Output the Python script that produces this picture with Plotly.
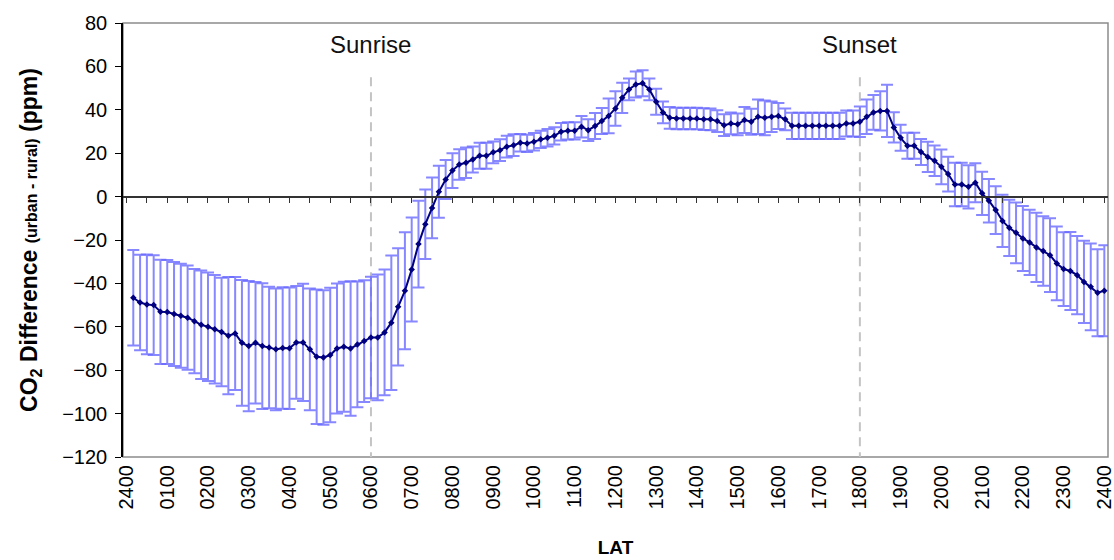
import plotly.graph_objects as go

# Local apparent time (hours) of each 10-minute sample: 00:10 ... 24:00
times_h = [(k + 1) / 6 for k in range(144)]

# Mean urban-minus-rural CO2 difference (ppm)
co2_diff = [
    -46.6, -48.8, -49.7, -50.0, -53.1, -53.2, -54.1, -54.9, -55.8, -57.4, -59.1, -60.0,
    -61.1, -62.4, -64.1, -63.1, -67.4, -68.9, -67.4, -68.9, -69.5, -70.4, -69.8, -69.9,
    -67.2, -67.2, -70.4, -73.8, -74.1, -73.0, -70.0, -69.2, -70.0, -68.1, -66.6, -64.9,
    -64.9, -62.6, -58.1, -50.8, -43.4, -33.6, -21.9, -12.7, -5.2, 2.2, 7.9, 12.0,
    14.8, 15.6, 17.1, 18.8, 18.8, 20.4, 21.4, 23.0, 23.7, 24.8, 24.5, 25.3,
    26.4, 27.1, 28.0, 29.9, 30.3, 30.3, 32.2, 30.6, 32.5, 34.8, 37.2, 40.6,
    45.5, 49.4, 51.7, 52.2, 49.4, 43.7, 38.8, 36.3, 36.0, 36.0, 36.0, 36.0,
    35.7, 35.6, 34.8, 32.9, 33.7, 33.3, 35.3, 34.5, 36.8, 36.3, 36.8, 37.1,
    35.6, 32.6, 32.6, 32.6, 32.6, 32.6, 32.6, 32.6, 32.6, 33.7, 33.7, 34.5,
    36.8, 38.8, 39.5, 39.5, 31.9, 27.1, 23.4, 23.4, 20.6, 18.3, 16.5, 13.7,
    10.4, 5.6, 5.6, 4.5, 6.4, 1.5, -1.9, -6.2, -11.2, -14.4, -16.7, -19.3,
    -21.1, -23.4, -25.1, -27.0, -30.8, -33.4, -34.3, -36.2, -39.3, -41.6, -44.3, -43.4,
]

# Standard deviation of the difference (ppm)
co2_sd = [
    22, 22, 23, 23, 24, 24, 24, 24, 24, 24, 25, 25,
    25, 25, 27, 26, 29, 30, 28, 29, 28, 28, 28, 28,
    26, 27, 28, 31, 31, 31, 30, 30, 31, 29, 28, 28,
    29, 29, 31, 27, 27, 24, 20, 16, 14, 12, 9, 8,
    7, 7, 6, 6, 6, 5, 5, 5, 5, 4, 4, 4,
    4, 4, 4, 4, 4, 4, 5, 5, 6, 6, 8, 8,
    7, 5, 6, 6, 5, 6, 5, 5, 5, 5, 5, 5,
    5, 5, 5, 5, 5, 5, 6, 6, 8, 8, 7, 6,
    5, 6, 6, 6, 6, 6, 6, 6, 6, 6, 6, 7,
    8, 8, 9, 12, 7, 6, 6, 6, 6, 7, 7, 8,
    8, 10, 10, 10, 9, 10, 10, 11, 12, 13, 14, 15,
    15, 16, 16, 17, 17, 17, 18, 18, 19, 20, 20, 21,
]

hour_ticks = list(range(25))
hour_labels = ["2400"] + [f"{h:02d}00" for h in range(1, 24)] + ["2400"]
half_hour_ticks = [h / 2 for h in range(49)]

events = [(6, "Sunrise"), (18, "Sunset")]

FONT = "Liberation Sans, Arial, sans-serif"
X_RANGE = [-0.086, 24.09]
Y_RANGE = [-120, 80]

fig = go.Figure()

fig.add_trace(go.Scatter(
    x=times_h,
    y=co2_diff,
    mode="lines+markers",
    line=dict(color="#000080", width=2),
    marker=dict(symbol="diamond", size=5, color="#000080"),
    error_y=dict(type="data", array=co2_sd, visible=True,
                 color="rgba(105,105,255,0.8)", thickness=2, width=6),
    showlegend=False,
    hoverinfo="x+y",
))

# dummy trace so the zero-line axis with half-hour ticks is drawn
fig.add_trace(go.Scatter(x=[0], y=[None], xaxis="x2", yaxis="y",
                         showlegend=False, hoverinfo="skip"))

shapes = [dict(type="rect", xref="paper", yref="paper", x0=0, x1=1, y0=0, y1=1,
               line=dict(color="#8c8c8c", width=1.5), layer="below")]
for hx, _ in events:
    shapes.append(dict(type="line", xref="x", yref="y", x0=hx, x1=hx, y0=55, y1=-120,
                       line=dict(color="#c4c4c4", width=2, dash="9px,6px"), layer="below"))

annotations = [dict(x=hx, y=70, xref="x", yref="y", text=label, showarrow=False,
                    font=dict(family=FONT, size=24, color="#111"))
               for hx, label in events]

fig.update_layout(
    width=1114, height=560,
    margin=dict(l=123, r=6, t=23, b=103),
    paper_bgcolor="white", plot_bgcolor="white",
    font=dict(family=FONT, color="black"),
    shapes=shapes,
    annotations=annotations,
    xaxis=dict(
        range=X_RANGE, tickmode="array", tickvals=hour_ticks, ticktext=hour_labels,
        tickangle=-90, tickfont=dict(size=20), ticks="", showline=False,
        ticklabeloverflow="allow", ticklabelstandoff=3, automargin=False,
        showgrid=False, zeroline=False,
        title=dict(text="<b>LAT</b>", font=dict(size=19), standoff=32),
    ),
    xaxis2=dict(
        range=X_RANGE, overlaying="x", anchor="free", position=0.6, side="bottom",
        tickmode="array", tickvals=half_hour_ticks, showticklabels=False,
        ticks="outside", ticklen=6, tickcolor="#333", tickwidth=1.2,
        showline=True, linecolor="#333", linewidth=1.5, automargin=False,
        showgrid=False, zeroline=False,
    ),
    yaxis=dict(
        range=Y_RANGE, dtick=20, tick0=0, ticks="outside", ticklen=6,
        tickcolor="black", tickfont=dict(size=20), showline=True,
        ticklabelstandoff=4, automargin=False,
        linecolor="black", linewidth=1.5, showgrid=False, zeroline=False,
        title=dict(
            text="<b>CO<sub>2</sub> Difference <span style='font-size:16px'>(urban - rural)</span> (ppm)</b>",
            font=dict(size=23), standoff=18),
    ),
)

fig.write_html("out.html")
